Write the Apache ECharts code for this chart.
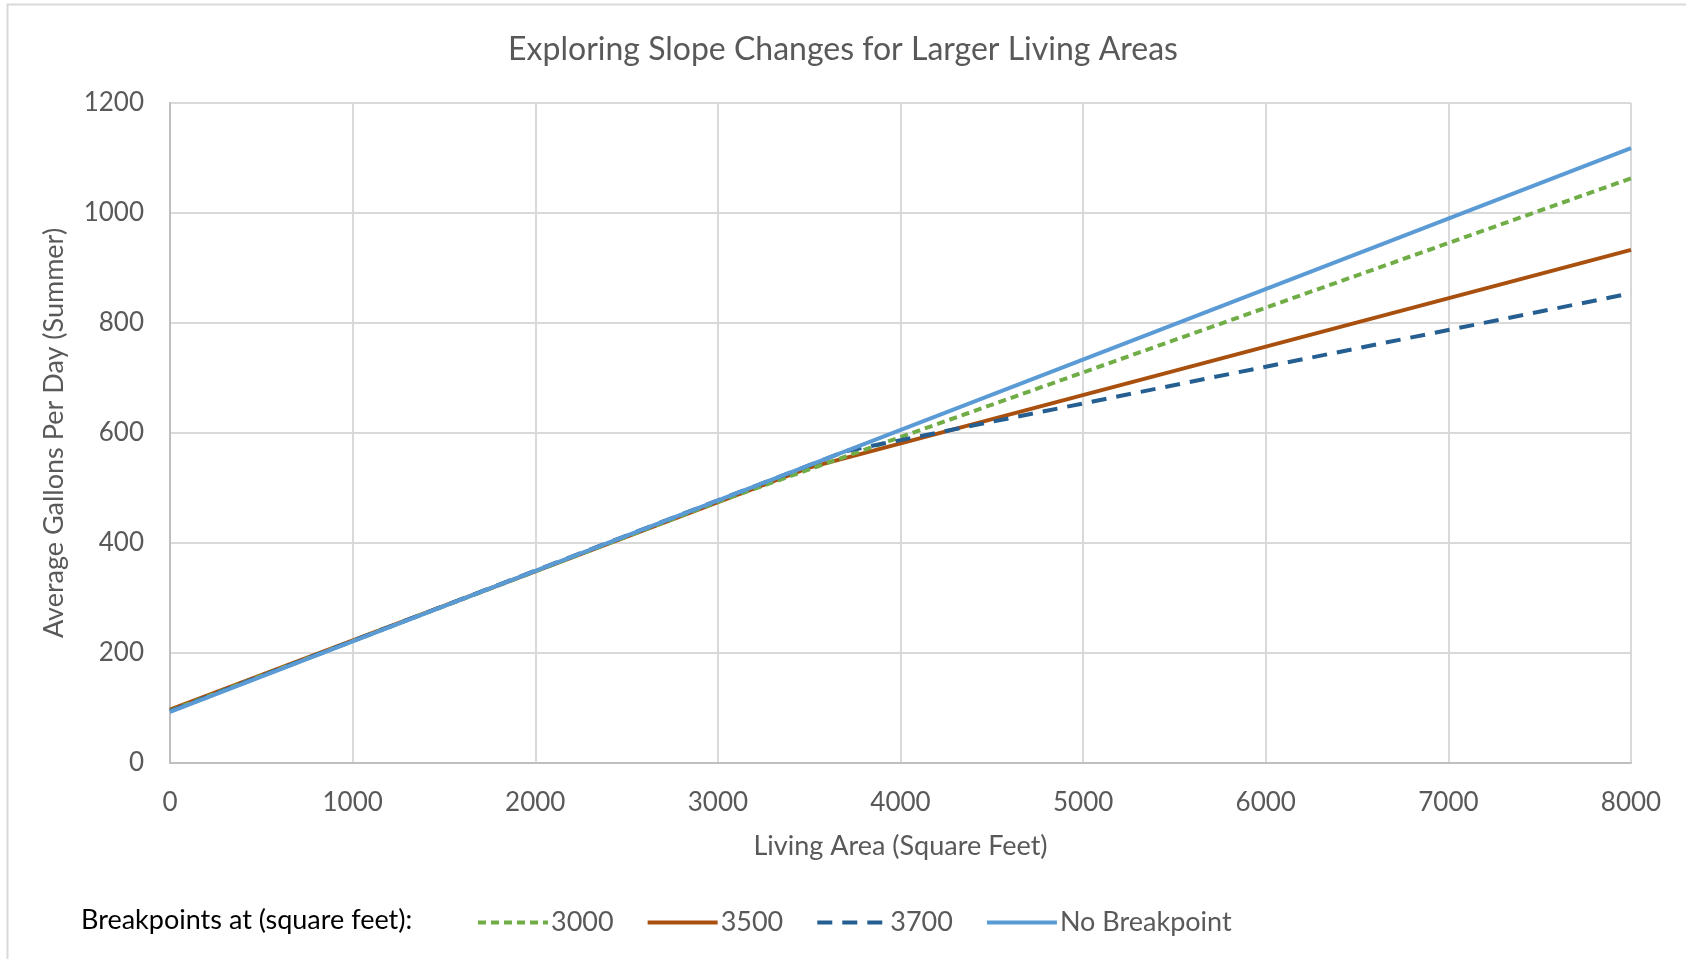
<!DOCTYPE html>
<html><head><meta charset="utf-8">
<script src="https://cdn.jsdelivr.net/npm/echarts@6/dist/echarts.min.js"></script>
<style>html,body{margin:0;padding:0;background:#fff}#c{width:1686px;height:959px}</style>
</head><body><div id="c"></div>
<script>
const xTicks = [0, 1000, 2000, 3000, 4000, 5000, 6000, 7000, 8000];
const yTicks = [0, 200, 400, 600, 800, 1000, 1200];
const seriesNames = ['3000', '3500', '3700', 'No Breakpoint'];
const bp3000X = [0, 3000, 8000];
const bp3000Y = [95, 475, 1063];
const bp3500X = [0, 3500, 8000];
const bp3500Y = [97, 537, 933];
const bp3700X = [0, 3700, 8000];
const bp3700Y = [94, 567, 854];
const noBpX = [0, 8000];
const noBpY = [93, 1118];

const FONT = 'Lato';
function pairs(xs, ys){ return xs.map((x,i)=>[x, ys[i]]); }
const chart = echarts.init(document.getElementById('c'));
chart.setOption({
  animation: false,
  textStyle: {fontFamily: FONT},
  title: {text: 'Exploring Slope Changes for Larger Living Areas', left: 'center', top: 29,
    textStyle: {fontFamily: FONT, fontSize: 32, fontWeight: 'normal', color: '#595959'}},
  graphic: [
    {type: 'rect', shape: {x: 7.5, y: 4.5, width: 1690, height: 960}, style: {fill: 'none', stroke: '#D9D9D9', lineWidth: 2}},
    {type: 'text', x: 81, y: 920, style: {text: 'Breakpoints at (square feet):', font: '27px ' + FONT, fill: '#000', textVerticalAlign: 'middle'}}
  ],
  legend: {left: 471, top: 904, itemWidth: 70, itemHeight: 30, itemGap: 32,
    itemStyle: {opacity: 0}, lineStyle: {width: 4},
    textStyle: {fontSize: 27, color: '#595959', padding: [0,0,0,-2]},
    data: seriesNames},
  grid: {left: 170, right: 55, top: 103, bottom: 196, containLabel: false},
  xAxis: {type: 'value', min: 0, max: 8000, interval: 1000,
    name: 'Living Area (Square Feet)', nameLocation: 'middle', nameGap: 70,
    nameTextStyle: {fontSize: 27, color: '#595959'},
    axisLine: {lineStyle: {color: '#BFBFBF', width: 2}}, axisTick: {show: false},
    axisLabel: {fontSize: 26, color: '#595959', margin: 27, formatter: v => String(v)},
    splitLine: {lineStyle: {color: '#D9D9D9', width: 2}}},
  yAxis: {type: 'value', min: 0, max: 1200, interval: 200,
    name: 'Average Gallons Per Day (Summer)', nameLocation: 'middle', nameGap: 102,
    nameTextStyle: {fontSize: 27, color: '#595959'},
    axisLine: {show: true, lineStyle: {color: '#BFBFBF', width: 2}}, axisTick: {show: false},
    axisLabel: {fontSize: 26, color: '#595959', margin: 26, formatter: v => String(v)},
    splitLine: {lineStyle: {color: '#D9D9D9', width: 2}}},
  series: [
    {name: seriesNames[0], type: 'line', symbol: 'none', data: pairs(bp3000X, bp3000Y), z: 3,
      lineStyle: {color: '#70AD47', width: 4, type: [8, 5]}, itemStyle: {color: '#70AD47'}},
    {name: seriesNames[1], type: 'line', symbol: 'none', data: pairs(bp3500X, bp3500Y), z: 2,
      lineStyle: {color: '#A9500F', width: 4}, itemStyle: {color: '#A9500F'}},
    {name: seriesNames[2], type: 'line', symbol: 'none', data: pairs(bp3700X, bp3700Y), z: 4,
      lineStyle: {color: '#255E91', width: 4, type: [15, 10]}, itemStyle: {color: '#255E91'}},
    {name: seriesNames[3], type: 'line', symbol: 'none', data: pairs(noBpX, noBpY), z: 5,
      lineStyle: {color: '#5B9BD5', width: 4}, itemStyle: {color: '#5B9BD5'}}
  ]
});
</script></body></html>
